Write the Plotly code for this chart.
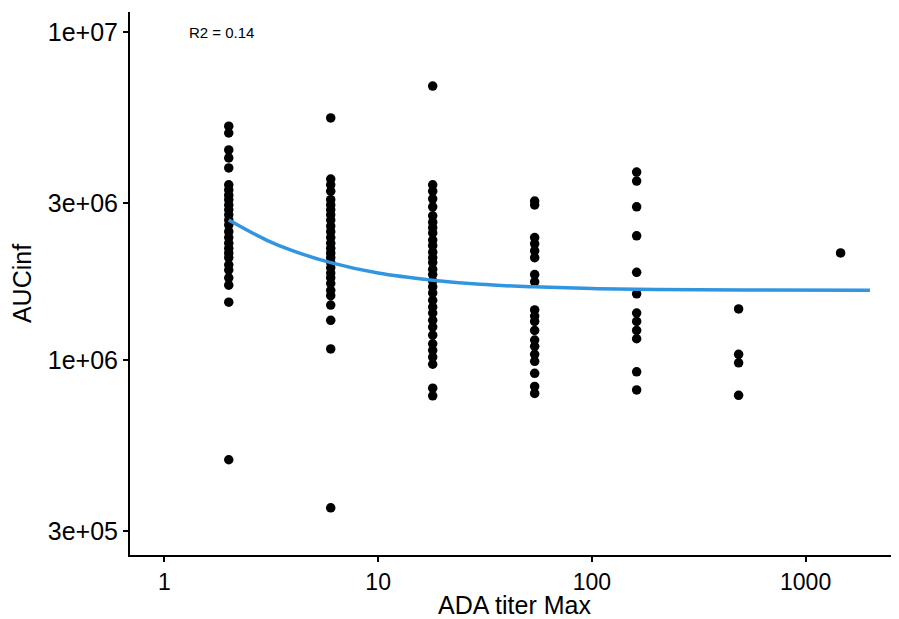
import plotly.graph_objects as go

# ADA titer groups and AUCinf values
titer_2 = [5.16e6, 4.92e6, 4.37e6, 4.13e6, 3.85e6, 3.42e6, 3.30e6, 3.18e6, 3.08e6, 2.97e6,
           2.87e6, 2.77e6, 2.67e6, 2.58e6, 2.46e6, 2.36e6, 2.27e6, 2.19e6, 2.12e6, 2.05e6,
           1.95e6, 1.88e6, 1.78e6, 1.69e6, 1.50e6, 4.96e5]
titer_6 = [5.47e6, 3.56e6, 3.42e6, 3.27e6, 3.08e6, 2.97e6, 2.87e6, 2.77e6, 2.67e6, 2.56e6,
           2.46e6, 2.36e6, 2.27e6, 2.19e6, 2.12e6, 2.05e6, 1.98e6, 1.91e6, 1.84e6, 1.78e6,
           1.71e6, 1.63e6, 1.57e6, 1.47e6, 1.32e6, 1.08e6, 3.54e5]
titer_18 = [6.84e6, 3.42e6, 3.27e6, 3.10e6, 2.93e6, 2.75e6, 2.63e6, 2.53e6, 2.44e6, 2.32e6,
            2.23e6, 2.13e6, 2.05e6, 1.98e6, 1.89e6, 1.82e6, 1.74e6, 1.67e6, 1.60e6, 1.52e6,
            1.45e6, 1.39e6, 1.32e6, 1.26e6, 1.19e6, 1.12e6, 1.07e6, 1.02e6, 9.7e5, 8.2e5, 7.77e5]
titer_54 = [3.05e6, 2.97e6, 2.36e6, 2.26e6, 2.15e6, 2.05e6, 1.82e6, 1.73e6, 1.42e6, 1.36e6,
            1.31e6, 1.23e6, 1.15e6, 1.10e6, 1.04e6, 9.9e5, 9.1e5, 8.3e5, 7.9e5]
titer_162 = [3.74e6, 3.51e6, 2.93e6, 2.39e6, 1.85e6, 1.59e6, 1.39e6, 1.31e6, 1.23e6, 1.16e6,
             9.2e5, 8.1e5]
titer_486 = [1.43e6, 1.04e6, 9.8e5, 7.8e5]
titer_1458 = [2.12e6]

groups = {2: titer_2, 6: titer_6, 18: titer_18, 54: titer_54, 162: titer_162,
          486: titer_486, 1458: titer_1458}

# fitted curve
fit_x = [2, 3, 4, 6, 10, 18, 30, 54, 100, 200, 500, 2000]
fit_y = [2.67e6, 2.32e6, 2.15e6, 1.98e6, 1.84e6, 1.75e6, 1.70e6, 1.67e6, 1.65e6, 1.64e6,
         1.635e6, 1.63e6]

x_ticks = [1, 10, 100, 1000]
x_ticktext = ["1", "10", "100", "1000"]
y_ticks = [3e5, 1e6, 3e6, 1e7]
y_ticktext = ["3e+05", "1e+06", "3e+06", "1e+07"]

xs, ys = [], []
for k, v in groups.items():
    xs += [k] * len(v)
    ys += v

FONT = "Liberation Sans, Arial, sans-serif"

fig = go.Figure()
fig.add_trace(go.Scatter(x=xs, y=ys, mode="markers",
                         marker=dict(color="black", size=9.5), showlegend=False))
fig.add_trace(go.Scatter(x=fit_x, y=fit_y, mode="lines",
                         line=dict(color="#3195E0", width=3.5, shape="spline"),
                         showlegend=False))

fig.add_annotation(x=0.265, y=7, xref="x", yref="y", text="R2 = 0.14",
                   showarrow=False, font=dict(family=FONT, size=15, color="black"))

axis_common = dict(showgrid=False, zeroline=False, showline=True, linecolor="black",
                   linewidth=2, ticks="outside", ticklen=5, tickwidth=2, tickcolor="black",
                   mirror=False)

fig.update_xaxes(type="log", range=[-0.161, 3.437], tickvals=x_ticks, ticktext=x_ticktext,
                 tickfont=dict(family=FONT, size=23, color="black"),
                 title=dict(text="ADA titer Max", font=dict(family=FONT, size=25, color="black"),
                            standoff=6),
                 **axis_common)
fig.update_yaxes(type="log", range=[5.405, 7.061], tickvals=y_ticks, ticktext=y_ticktext,
                 tickfont=dict(family=FONT, size=25, color="black"),
                 title=dict(text="AUCinf", font=dict(family=FONT, size=25, color="black"),
                            standoff=17),
                 **axis_common)

# page body adds an 8px offset; positions are compensated for it
fig.update_layout(width=891, height=611, plot_bgcolor="white", paper_bgcolor="white",
                  margin=dict(l=122, r=0, t=4, b=64, autoexpand=False),
                  font=dict(family=FONT))

fig.write_html("out.html")
